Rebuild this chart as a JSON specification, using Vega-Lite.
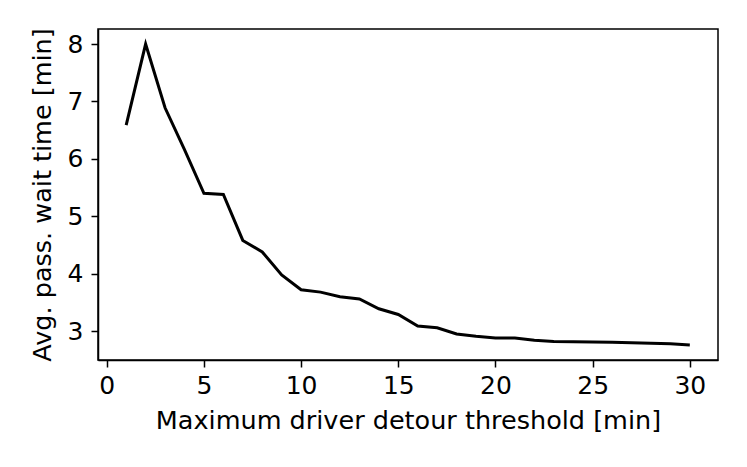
{
  "$schema": "https://vega.github.io/schema/vega-lite/v6.json",
  "width": 620,
  "height": 331,
  "autosize": {"type": "none"},
  "padding": {"left": 98, "top": 29, "right": 29, "bottom": 107},
  "background": "white",
  "config": {
    "font": "DejaVu Sans",
    "view": {"stroke": "black", "strokeWidth": 1.5},
    "axis": {
      "grid": false,
      "domainColor": "black",
      "domainWidth": 1.5,
      "tickColor": "black",
      "tickWidth": 1.5,
      "tickSize": 7,
      "labelFont": "DejaVu Sans",
      "labelFontSize": 25,
      "labelColor": "black",
      "titleFont": "DejaVu Sans",
      "titleFontSize": 25.5,
      "titleFontWeight": "normal",
      "titleColor": "black",
      "labelPadding": 6
    }
  },
  "data": {
    "values": [
      {"x": 1, "y": 6.59},
      {"x": 2, "y": 8.0},
      {"x": 3, "y": 6.89},
      {"x": 4, "y": 6.16},
      {"x": 5, "y": 5.40},
      {"x": 6, "y": 5.38},
      {"x": 7, "y": 4.58},
      {"x": 8, "y": 4.38},
      {"x": 9, "y": 3.98},
      {"x": 10, "y": 3.72},
      {"x": 11, "y": 3.68},
      {"x": 12, "y": 3.60},
      {"x": 13, "y": 3.56},
      {"x": 14, "y": 3.39},
      {"x": 15, "y": 3.29},
      {"x": 16, "y": 3.09},
      {"x": 17, "y": 3.06},
      {"x": 18, "y": 2.95},
      {"x": 19, "y": 2.91},
      {"x": 20, "y": 2.88},
      {"x": 21, "y": 2.88},
      {"x": 22, "y": 2.84},
      {"x": 23, "y": 2.82},
      {"x": 24, "y": 2.815},
      {"x": 25, "y": 2.81},
      {"x": 26, "y": 2.805},
      {"x": 27, "y": 2.80},
      {"x": 28, "y": 2.79},
      {"x": 29, "y": 2.78},
      {"x": 30, "y": 2.76}
    ]
  },
  "mark": {"type": "line", "color": "black", "strokeWidth": 3, "clip": true},
  "encoding": {
    "x": {
      "field": "x",
      "type": "quantitative",
      "title": "Maximum driver detour threshold [min]",
      "scale": {"domain": [-0.45, 31.45], "nice": false, "zero": false},
      "axis": {"values": [0, 5, 10, 15, 20, 25, 30], "titlePadding": 10}
    },
    "y": {
      "field": "y",
      "type": "quantitative",
      "title": "Avg. pass. wait time [min]",
      "scale": {"domain": [2.4975, 8.2625], "nice": false, "zero": false},
      "axis": {"values": [3, 4, 5, 6, 7, 8], "labelPadding": 8, "titlePadding": 12}
    }
  }
}
